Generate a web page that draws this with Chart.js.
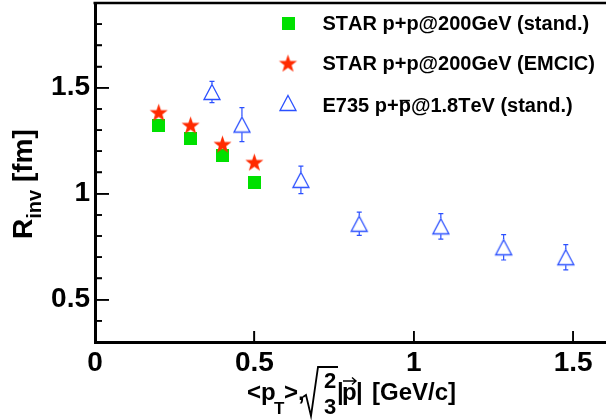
<!DOCTYPE html>
<html><head><meta charset="utf-8">
<script src="https://cdn.jsdelivr.net/npm/chart.js@4/dist/chart.umd.min.js"></script>
<style>html,body{margin:0;padding:0;background:#fff;}canvas{display:block;}</style>
</head><body>
<canvas id="c" width="606" height="420"></canvas>
<script>
// ---- data ----
const starStandX = [0.2, 0.3, 0.4, 0.5];
const starStandY = [1.32, 1.26, 1.18, 1.053];
const starEmcicX = [0.2, 0.3, 0.4, 0.5];
const starEmcicY = [1.38, 1.32, 1.23, 1.145];
const e735X = [0.367, 0.461, 0.646, 0.829, 1.085, 1.282, 1.477];
const e735Y = [1.48, 1.326, 1.065, 0.858, 0.846, 0.747, 0.700];
const e735Err = [0.05, 0.08, 0.065, 0.055, 0.06, 0.06, 0.06];
const xTickValues = [0, 0.5, 1, 1.5];
const yTickValues = [0.5, 1, 1.5];
const yMinorTicks = [0.4, 0.6, 0.7, 0.8, 0.9, 1.1, 1.2, 1.3, 1.4, 1.6, 1.7, 1.8];
const seriesNames = ['STAR p+p@200GeV (stand.)', 'STAR p+p@200GeV (EMCIC)', 'E735 p+p\u0305@1.8TeV (stand.)'];
const xRange = [0, 1.6];
const yRange = [0.3, 1.9];

const GREEN = '#00e000', RED = '#ff2a00', BLUE = '#2b50ff';
const FONT = '"Liberation Sans", Arial, Helvetica, sans-serif';

// plot-area size in pixels (used to express tick-mark lengths in data units)
const PLOT_W = 510, PLOT_H = 339;
const ux = (xRange[1] - xRange[0]) / PLOT_W, uy = (yRange[1] - yRange[0]) / PLOT_H;

function makeSquare(size, color) {
  const c = document.createElement('canvas'); c.width = c.height = size;
  const g = c.getContext('2d'); g.fillStyle = color; g.fillRect(0, 0, size, size); return c;
}
function makeStar(R, color) {
  const s = Math.ceil(2 * R) + 2; const c = document.createElement('canvas'); c.width = c.height = s;
  const g = c.getContext('2d'); g.translate(s / 2, s / 2); g.beginPath();
  const r = R * 0.40;
  for (let i = 0; i < 10; i++) {
    const a = -Math.PI / 2 + i * Math.PI / 5; const rr = i % 2 ? r : R;
    const px = rr * Math.cos(a), py = rr * Math.sin(a);
    i ? g.lineTo(px, py) : g.moveTo(px, py);
  }
  g.closePath(); g.fillStyle = color; g.fill(); return c;
}
function makeTriangle(w, h, color, lw) {
  const s = Math.ceil(Math.max(w, h)) + 4; const c = document.createElement('canvas'); c.width = c.height = s;
  const g = c.getContext('2d'); g.translate(s / 2, s / 2);
  g.beginPath(); g.moveTo(0, -h / 2); g.lineTo(w / 2, h / 2); g.lineTo(-w / 2, h / 2); g.closePath();
  g.strokeStyle = color; g.lineWidth = lw; g.stroke(); return c;
}
const squareImg = makeSquare(13, GREEN);
const starImg = makeStar(9.5, RED);
const triImg = makeTriangle(16, 15, BLUE, 1.3);

const toPts = (xs, ys) => xs.map((x, i) => ({ x: x, y: ys[i] }));

// tick-mark segments (inside the frame), separated by gaps
const tickSegments = [];
yTickValues.forEach(v => tickSegments.push({ x: xRange[0], y: v }, { x: xRange[0] + 14 * ux, y: v }, { x: xRange[0], y: null }));
yMinorTicks.forEach(v => tickSegments.push({ x: xRange[0], y: v }, { x: xRange[0] + 7 * ux, y: v }, { x: xRange[0], y: null }));
xTickValues.slice(1).forEach(v => tickSegments.push({ x: v, y: yRange[0] }, { x: v, y: yRange[0] + 11 * uy }, { x: v, y: null }));

function drawText(g, str, x, y) {
  let cx = x;
  for (let i = 0; i < str.length; i++) {
    const ch = str[i];
    if (ch === '\u0305') continue;
    const w = g.measureText(ch).width;
    g.fillText(ch, cx, y);
    if (str[i + 1] === '\u0305') {
      g.fillRect(cx + 1, y - 12.2, w - 2, 1.5);
    }
    cx += w;
  }
}

const decor = {
  id: 'decor',
  afterDraw(chart) {
    const g = chart.ctx, xs = chart.scales.x, ys = chart.scales.y;
    g.save();
    // error bars for E735
    g.strokeStyle = BLUE; g.lineWidth = 1.2;
    e735X.forEach((xv, i) => {
      const px = xs.getPixelForValue(xv), py = ys.getPixelForValue(e735Y[i]);
      const t = ys.getPixelForValue(e735Y[i] + e735Err[i]), b = ys.getPixelForValue(e735Y[i] - e735Err[i]);
      g.beginPath();
      if (t < py - 8) { g.moveTo(px, py - 8); g.lineTo(px, t); g.moveTo(px - 2.5, t); g.lineTo(px + 2.5, t); }
      if (b > py + 8) { g.moveTo(px, py + 8); g.lineTo(px, b); g.moveTo(px - 2.5, b); g.lineTo(px + 2.5, b); }
      g.stroke();
    });
    const L = xs.getPixelForValue(xRange[0]);
    const T = ys.getPixelForValue(yRange[1]);
    const B = ys.getPixelForValue(yRange[0]);
    g.fillStyle = '#000';
    yTickValues.forEach(v => { g.fillRect(L, Math.round(ys.getPixelForValue(v)) - 0.75, 14, 1.5); });
    yMinorTicks.forEach(v => { g.fillRect(L, Math.round(ys.getPixelForValue(v)) - 0.75, 7, 1.5); });
    xTickValues.slice(1).forEach(v => { g.fillRect(Math.round(xs.getPixelForValue(v)) - 0.75, B - 11, 1.5, 11); });
    // top frame
    g.fillRect(L - 1.5, T - 1.25, 606 - L + 1.5, 2.5);

    // legend
    const legendMarks = [squareImg, starImg, triImg];
    const legY = [23.3, 64, 103];
    const base = [29.5, 70, 112];
    g.font = 'bold 20px ' + FONT; g.textBaseline = 'alphabetic'; g.textAlign = 'left';
    legendMarks.forEach((m, i) => {
      g.drawImage(m, 288 - m.width / 2, legY[i] - m.height / 2);
      drawText(g, seriesNames[i], 322.5, base[i]);
    });

    // y title: R_inv [fm]
    g.save();
    g.translate(32, 239); g.rotate(-Math.PI / 2);
    g.font = 'bold 28px ' + FONT; g.fillText('R', 0, 0);
    let w = g.measureText('R').width;
    g.font = 'bold 20px ' + FONT; g.fillText('inv', w, 9);
    w += g.measureText('inv').width;
    g.font = 'bold 28px ' + FONT; g.fillText(' [fm]', w, 0);
    g.restore();

    // x title: <p_T>, sqrt(2/3)|p| [GeV/c]
    const bl = 400;
    g.font = 'bold 24px ' + FONT;
    g.fillText('<p', 247, bl);
    g.font = 'bold 17px ' + FONT; g.fillText('T', 274, bl + 14);
    g.font = 'bold 24px ' + FONT; g.fillText('>,', 284, bl);
    g.lineWidth = 1.8; g.strokeStyle = '#000'; g.lineJoin = 'miter';
    g.beginPath();
    g.moveTo(303, bl - 3); g.lineTo(306, bl - 5);
    g.lineTo(311, bl + 16); g.lineTo(318, bl - 33); g.lineTo(338, bl - 33);
    g.stroke();
    g.font = 'bold 22px ' + FONT; g.textAlign = 'center';
    g.fillText('2', 330, bl - 12);
    g.fillText('3', 330, bl + 14);
    g.textAlign = 'left';
    g.font = 'bold 24px ' + FONT;
    g.fillText('|', 337, bl);
    g.fillText('p', 342, bl);
    g.lineWidth = 1.4;
    g.beginPath(); g.moveTo(343, bl - 19); g.lineTo(356, bl - 19);
    g.moveTo(352, bl - 22.5); g.lineTo(356, bl - 19); g.lineTo(352, bl - 15.5);
    g.stroke();
    g.fillText('|', 356, bl);
    g.fillText('[GeV/c]', 372, bl);
    g.restore();
  }
};

const tickFont = { family: FONT, size: 28, weight: 'bold' };

new Chart(document.getElementById('c'), {
  type: 'scatter',
  data: {
    datasets: [
      { label: seriesNames[0], data: toPts(starStandX, starStandY), pointStyle: squareImg, order: 3 },
      { label: seriesNames[1], data: toPts(starEmcicX, starEmcicY), pointStyle: starImg, order: 2 },
      { label: seriesNames[2], data: toPts(e735X, e735Y), pointStyle: triImg, order: 1 },
      { label: 'ticks', type: 'line', data: tickSegments, showLine: true, spanGaps: false,
        borderColor: '#000', borderWidth: 1.5, pointRadius: 0, clip: false, order: 0, fill: false }
    ]
  },
  options: {
    responsive: false, devicePixelRatio: 1, animation: false,
    layout: { padding: { top: 3, right: 1, left: 0, bottom: 0 }, autoPadding: false },
    plugins: { legend: { display: false }, tooltip: { enabled: false } },
    scales: {
      x: {
        type: 'linear', min: xRange[0], max: xRange[1],
        afterBuildTicks: s => { s.ticks = xTickValues.map(v => ({ value: v })); },
        afterFit: s => { s.height = 78; s.paddingLeft = 0; s.paddingRight = 0; },
        grid: { display: false, drawTicks: false },
        border: { display: true, color: '#000', width: 3 },
        ticks: { color: '#000', font: tickFont, padding: 4, maxRotation: 0, callback: v => String(v) }
      },
      y: {
        type: 'linear', min: yRange[0], max: yRange[1],
        afterBuildTicks: s => { s.ticks = yTickValues.map(v => ({ value: v })); },
        afterFit: s => { s.width = 95; s.paddingTop = 0; s.paddingBottom = 0; },
        grid: { display: false, drawTicks: false },
        border: { display: true, color: '#000', width: 3 },
        ticks: { color: '#000', font: tickFont, padding: 5, callback: v => String(v) }
      }
    }
  },
  plugins: [decor]
});
</script>
</body></html>
